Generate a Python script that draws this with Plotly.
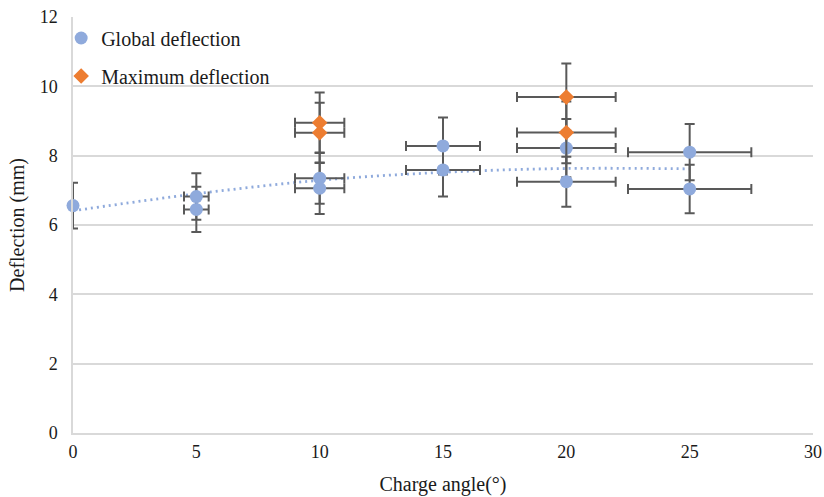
import plotly.graph_objects as go

# Global deflection series
angle_global = [0, 5, 5, 10, 10, 15, 15, 20, 20, 25, 25]
defl_global = [6.56, 6.82, 6.45, 7.35, 7.06, 8.28, 7.59, 8.22, 7.25, 8.10, 7.04]
err_global_y = [0.66, 0.67, 0.65, 0.74, 0.74, 0.82, 0.77, 0.84, 0.72, 0.81, 0.70]
err_global_x = [0, 0.5, 0.5, 1, 1, 1.5, 1.5, 2, 2, 2.5, 2.5]

# Maximum deflection series
angle_max = [10, 10, 20, 20]
defl_max = [8.95, 8.66, 9.69, 8.67]
err_max_y = [0.87, 0.87, 0.97, 0.89]
err_max_x = [1, 1, 2, 2]

# Trendline
trend_x = [0, 5, 10, 15, 20, 25]
trend_y = [6.41, 6.90, 7.29, 7.52, 7.63, 7.62]

x_ticks = [0, 5, 10, 15, 20, 25, 30]
y_ticks = [0, 2, 4, 6, 8, 10, 12]

FONT = "Liberation Serif, Times New Roman, DejaVu Serif, serif"
BLUE = "#8faadc"
ORANGE = "#ed7d31"
ERR = "#595959"
GRID = "#d9d9d9"
TXT = "#1a1a1a"

fig = go.Figure()

fig.add_trace(go.Scatter(
    x=trend_x, y=trend_y, mode="lines", showlegend=False, hoverinfo="skip",
    line=dict(color=BLUE, width=2.8, dash="2px,4px", shape="spline"),
    cliponaxis=False,
))

err_style = dict(color=ERR, thickness=2, width=5)

fig.add_trace(go.Scatter(
    x=angle_global, y=defl_global, mode="markers", name="Global deflection",
    marker=dict(symbol="circle", size=13, color=BLUE),
    error_y=dict(type="data", array=err_global_y, visible=True, **err_style),
    error_x=dict(type="data", array=err_global_x, visible=True, **err_style),
    cliponaxis=False, legend="legend",
))

fig.add_trace(go.Scatter(
    x=angle_max, y=defl_max, mode="markers", name="Maximum deflection",
    marker=dict(symbol="diamond", size=12, color=ORANGE),
    error_y=dict(type="data", array=err_max_y, visible=True, **err_style),
    error_x=dict(type="data", array=err_max_x, visible=True, **err_style),
    cliponaxis=False, legend="legend2",
))

legend_common = dict(
    xref="paper", yref="paper", xanchor="left", yanchor="middle",
    bgcolor="rgba(0,0,0,0)", font=dict(family=FONT, size=20, color=TXT),
    itemwidth=30,
)

fig.update_layout(
    width=824, height=497,
    margin=dict(l=73, r=11, t=17, b=64),
    paper_bgcolor="white", plot_bgcolor="white",
    font=dict(family=FONT, size=18, color=TXT),
    legend=dict(x=-0.016, y=0.9495, **legend_common),
    legend2=dict(x=-0.016, y=0.858, **legend_common),
    xaxis=dict(
        range=[0, 30], tickvals=x_ticks, ticktext=[str(v) for v in x_ticks],
        showgrid=False, zeroline=False, showline=True, linecolor=GRID, linewidth=1.5,
        ticks="", ticklabelstandoff=2, ticklabeloverflow="allow", automargin=False,
        title=dict(text="Charge angle(°)", font=dict(family=FONT, size=20), standoff=16),
    ),
    yaxis=dict(
        range=[0, 12], tickvals=y_ticks, ticktext=[str(v) for v in y_ticks],
        showgrid=True, gridcolor=GRID, gridwidth=1.5, zeroline=False,
        showline=True, linecolor=GRID, linewidth=1.5, automargin=False,
        ticks="", ticklabelstandoff=10, ticklabeloverflow="allow",
        title=dict(text="Deflection (mm)", font=dict(family=FONT, size=20), standoff=10),
    ),
)

# remove the browser's default 8px body margin so the figure fills the window
fig.write_html(
    "out.html",
    config={"displayModeBar": False},
    post_script="document.body.style.margin='0px';",
)
